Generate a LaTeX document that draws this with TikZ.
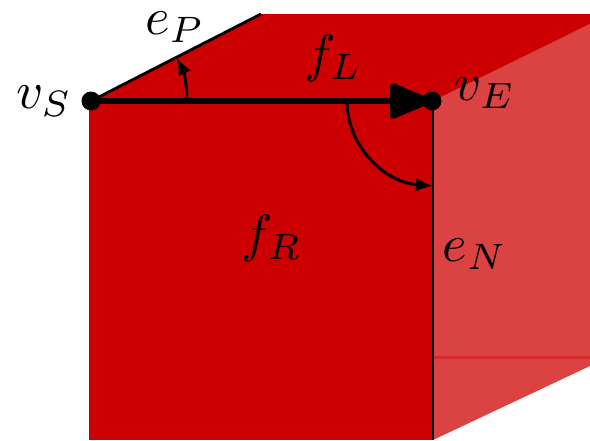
\documentclass[tikz,border=0pt]{standalone}
\usetikzlibrary{arrows.meta}
\definecolor{darkface}{HTML}{CC0000}
\definecolor{lightface}{HTML}{DB4242}
\definecolor{midline}{HTML}{D42A2A}
\tikzset{
  lbl/.style={scale=5.25,inner sep=0pt,outer sep=0pt,text=black},
  vertexdot/.style={circle,fill=black,minimum size=19pt,inner sep=0pt},
  edgeline/.style={draw=black,line width=2.8pt},
  arcarrow/.style={draw=black,line width=3pt,-{Latex[length=17pt,width=14pt]}},
}
\begin{document}
\begin{tikzpicture}[x=1pt,y=-1pt]
\useasboundingbox (0,0) rectangle (590,440);
\coordinate (S) at (91,101);
\coordinate (E) at (432,101);
\coordinate (PT) at (261,14);
\coordinate (BL) at (89,440);
\coordinate (BR) at (433,440);
% faces
\fill[lightface] (433,101) -- (590,24) -- (590,366) -- (BR) -- cycle;
\fill[darkface] (S) -- (PT) -- (590,14) -- (590,24) -- (433,101) -- cycle;
\fill[darkface] (89,101) -- (433,101) -- (BR) -- (BL) -- cycle;
\coordinate (ML) at (433,357);
\coordinate (MR) at (590,357);
\draw[midline,line width=3pt] (ML) -- (MR);
% edges
\coordinate (ET) at (433,101);
\draw[edgeline] (S) -- (PT);
\draw[edgeline] (ET) -- (BR);
% angle arcs
\coordinate (A1) at (187,101);
\coordinate (A2) at (177,58);
\coordinate (B1) at (347,101);
\coordinate (B2) at (433,186);
\draw[arcarrow] (A1) .. controls (187,86) and (184,72) .. (A2);
\draw[arcarrow] (B1) .. controls (347,145) and (383,182) .. (B2);
% main edge
\node[vertexdot] (vs) at (S) {};
\node[vertexdot] (ve) at (E) {};
\draw[draw=black,line width=6pt,-{Triangle[length=46pt,width=37pt,round]},shorten >=1pt] (vs.center) -- (ve.center);
% labels
\node[lbl] (ls) at (44,101) {$v_S$};
\node[lbl] (le) at (485,93) {$v_E$};
\node[lbl] (lp) at (175,27) {$e_P$};
\node[lbl] (lfl) at (333,58) {$f_L$};
\node[lbl] (lfr) at (272,238) {$f_R$};
\node[lbl] (ln) at (475,254) {$e_N$};
\end{tikzpicture}
\end{document}
